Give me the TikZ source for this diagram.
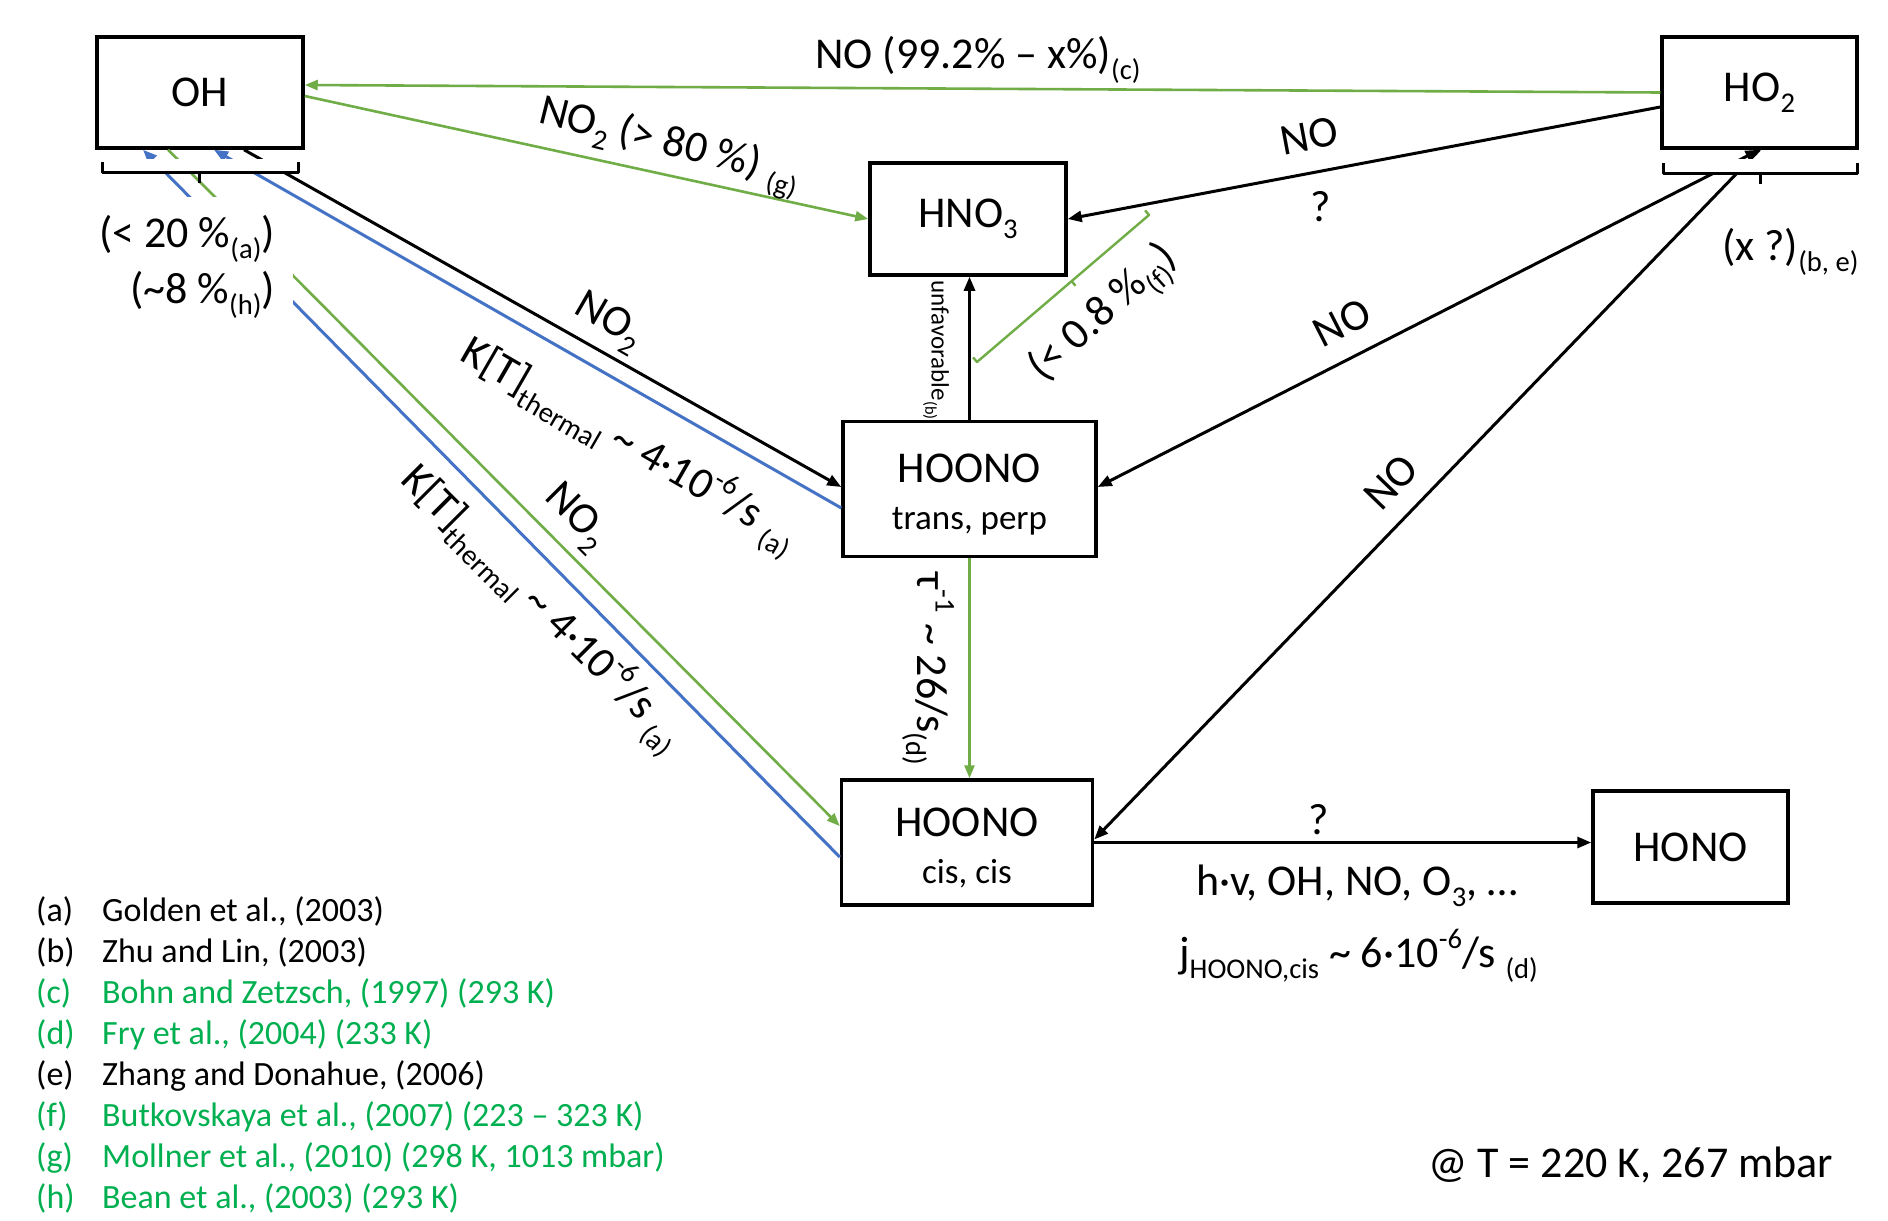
\documentclass[tikz,border=0pt]{standalone}
\usepackage{fontspec}
\setmainfont{Carlito}
\usetikzlibrary{arrows.meta,calc}
\definecolor{lgreen}{HTML}{70AD47}
\definecolor{lblue}{HTML}{4472C4}
\definecolor{refgreen}{HTML}{00B050}
\newcommand\lowtxt[1]{\raisebox{-0.25em}{\scalebox{0.65}{#1}}}
\newcommand\hightxt[1]{\raisebox{0.42em}{\scalebox{0.65}{#1}}}
\newcommand\boxfont{\fontsize{44}{50}\selectfont}
\newcommand\subfont{\fontsize{35}{41}\selectfont}
\newcommand\lblfont{\fontsize{44}{50}\selectfont}
\newcommand\smallfont{\fontsize{25}{30}\selectfont}
\newcommand\legfont{\fontsize{34}{40}\selectfont}
\begin{document}
\begin{tikzpicture}[x=1pt,y=-1pt,
  species/.style={draw, line width=3.5pt, font=\boxfont, align=center, inner sep=0pt},
  conn/.style={line width=3pt, -{Triangle[length=14pt,width=11pt]}},
  gconn/.style={lgreen, line width=2.6pt, -{Triangle[length=13pt,width=10pt]}},
  bconn/.style={lblue, line width=3pt, -{Triangle[length=14pt,width=11pt]}},
  lbl/.style={font=\lblfont, inner sep=0pt},
  leg/.style={font=\legfont, inner sep=0pt, anchor=base west},
  brk/.style={line width=3pt, line join=round}]
\useasboundingbox (0,0) rectangle (1888,1221);
\fill[white] (0,0) rectangle (1888,1221);

% species
\node[species, minimum width=206pt, minimum height=111pt] (OH) at (200,92.5) {OH};
\node[species, minimum width=195pt, minimum height=111pt] (HO2) at (1759.5,92.5) {HO\lowtxt{2}};
\node[species, minimum width=196pt, minimum height=112pt] (HNO3) at (968,219) {HNO\lowtxt{3}};
\node[species, minimum width=253pt, minimum height=135pt] (trans) at (969.5,489) {\rule{0pt}{40pt}HOONO\\[-3pt]{\subfont trans, perp}};
\node[species, minimum width=251pt, minimum height=125pt] (cis) at (967,842.5) {\rule{0pt}{40pt}HOONO\\[-3pt]{\subfont cis, cis}};
\node[species, minimum width=195pt, minimum height=112pt] (HONO) at (1690.5,847) {HONO};

% connectors
\draw[gconn] (HO2.west) -- ($(OH.east)+(0,-7.5)$);
\draw[gconn] ($(OH.east)+(0,3.5)$) -- (HNO3.west);
\draw[conn] ($(HO2.west)+(0,14.5)$) -- (HNO3.east);
\draw[conn, {Triangle[length=14pt,width=11pt]}-{Triangle[length=14pt,width=11pt]}] (HO2.south) -- ($(trans.east)+(0,-2)$);
\draw[conn] (HO2.south) -- ($(cis.east)+(0,-3)$);
\draw[conn] (trans.north) -- (trans.north |- HNO3.south);
\draw[gconn] (trans.south) -- (trans.south |- cis.north);
\draw[conn] ($(OH.south)+(44,0)$) -- ($(trans.west)+(0,-2)$);
\draw[bconn] ($(trans.west)+(0,19)$) -- ($(OH.south)+(14,0)$);
\draw[gconn] ($(OH.south)+(-32,0)$) -- ($(cis.west)+(0,-16.5)$);
\draw[bconn] ($(cis.west)+(0,14.5)$) -- ($(OH.south)+(-57,0)$);
\draw[conn] (cis.east) -- (cis.east -| HONO.west);

% brackets
\fill[white] (99,159) rectangle (304,174);
\draw[brk] (102,162) -- (102,172) -- (298,172) -- (298,162);
\draw[brk] (199,172) -- (199,183);
\fill[white] (1661,159) rectangle (1860,175);
\draw[brk] (1663,163) -- (1663,173) -- (1857,173) -- (1857,163);
\draw[brk] (1760,173) -- (1760,184);
\draw[lgreen, line width=2.4pt, line join=round] (973.1,357.4) -- (977,362) -- (1149,215) -- (1145.1,210.4);
\draw[lgreen, line width=2.4pt] (1071.6,281.2) -- (1075.5,285.8);

% OH branching label (covers lines)
\fill[white] (92,197) rectangle (293,318);
\node[lbl, anchor=base east] (pa) at (275,247) {(< 20 \%\lowtxt{(a)})};
\node[lbl, anchor=base east] (ph) at (275,303) {(\textasciitilde 8 \%\lowtxt{(h)})};

% edge labels
\node[lbl, anchor=base west] (lc) at (815,68) {NO (99.2\% – x\%)\lowtxt{(c)}};
\node[lbl, rotate=-14] (lg) at (669,147) {NO\lowtxt{2} (> 80 \%) \lowtxt{(g)}};
\node[lbl, rotate=10.5] (lno1) at (1309,136) {NO};
\node[lbl] (lq1) at (1321,207) {?};
\node[lbl, anchor=base west] (lbe) at (1722,260) {(x ?)\lowtxt{(b, e)}};
\node[lbl, rotate=27] (lno2) at (1342,323) {NO};
\node[lbl, rotate=46] (lno3) at (1391,482) {NO};
\node[lbl] (lq2) at (1319,820) {?};
\node[lbl, anchor=base west] (lhv) at (1196,895) {h·v, OH, NO, O\lowtxt{3}, …};
\node[lbl, anchor=base west] (lj) at (1179,967) {j\lowtxt{HOONO,cis} \textasciitilde{} 6·10\hightxt{-6}/s \lowtxt{(d)}};
\node[font=\smallfont, inner sep=0pt, rotate=-90] (lunf) at (936,350) {unfavorable\lowtxt{(b)}};
\node[lbl, rotate=-90] (ltau) at (928,669) {τ\hightxt{-1} \textasciitilde{} 26/s\lowtxt{(d)}};
\node[lbl, rotate=42] (lf) at (1105,315) {(< 0.8 \%\lowtxt{(f)})};
\node[lbl, rotate=-30] (lno2a) at (608,323) {NO\lowtxt{2}};
\node[lbl, rotate=-30] (lk1) at (629,445) {K[T]\lowtxt{thermal} \textasciitilde{} 4·10\hightxt{-6}/s \lowtxt{(a)}};
\node[lbl, rotate=-45] (lno2b) at (575,518) {NO\lowtxt{2}};
\node[lbl, rotate=-45] (lk2) at (542,608) {K[T]\lowtxt{thermal} \textasciitilde{} 4·10\hightxt{-6}/s \lowtxt{(a)}};

% legend
\node[leg] (ka) at (36,921) {(a)};
\node[leg] (ta) at (102,921) {Golden et al., (2003)};
\node[leg] (kb) at (36,962) {(b)};
\node[leg] (tb) at (102,962) {Zhu and Lin, (2003)};
\node[leg, refgreen] (kc) at (36,1003) {(c)};
\node[leg, refgreen] (tc) at (102,1003) {Bohn and Zetzsch, (1997) (293 K)};
\node[leg, refgreen] (kd) at (36,1044) {(d)};
\node[leg, refgreen] (td) at (102,1044) {Fry et al., (2004) (233 K)};
\node[leg] (ke) at (36,1085) {(e)};
\node[leg] (te) at (102,1085) {Zhang and Donahue, (2006)};
\node[leg, refgreen] (kf) at (36,1126) {(f)};
\node[leg, refgreen] (tf) at (102,1126) {Butkovskaya et al., (2007) (223 – 323 K)};
\node[leg, refgreen] (kg) at (36,1167) {(g)};
\node[leg, refgreen] (tg) at (102,1167) {Mollner et al., (2010) (298 K, 1013 mbar)};
\node[leg, refgreen] (kh) at (36,1208) {(h)};
\node[leg, refgreen] (th) at (102,1208) {Bean et al., (2003) (293 K)};

\node[lbl, anchor=base west] (cond) at (1428,1177) {@ T = 220 K, 267 mbar};
\end{tikzpicture}
\end{document}
